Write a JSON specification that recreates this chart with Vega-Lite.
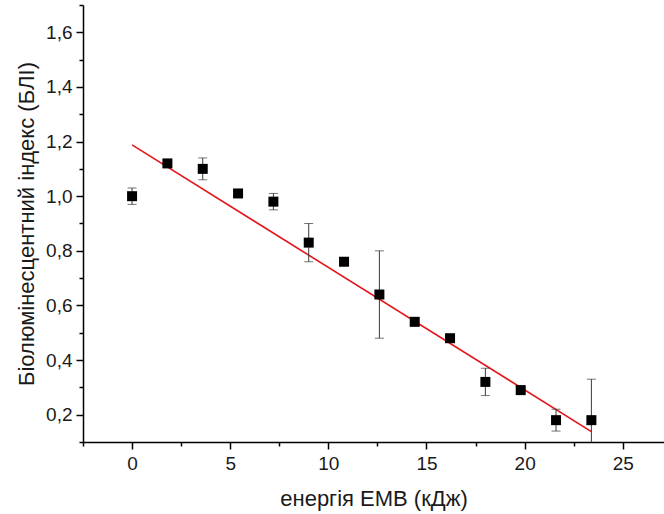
{
  "$schema": "https://vega.github.io/schema/vega-lite/v6.json",
  "width": 581,
  "height": 437,
  "autosize": {"type": "none"},
  "padding": {"left": 83, "top": 5, "right": 0, "bottom": 72},
  "background": "white",
  "config": {
    "view": {"stroke": null},
    "font": "Liberation Sans",
    "axis": {
      "grid": false,
      "domainColor": "#000000",
      "domainWidth": 1.5,
      "tickColor": "#000000",
      "tickWidth": 1.5,
      "labelColor": "#1a1a1a",
      "titleColor": "#1a1a1a",
      "labelFont": "Liberation Sans",
      "titleFont": "Liberation Sans",
      "labelFontSize": 19,
      "titleFontSize": 22,
      "titleFontWeight": "normal",
      "labelOverlap": false,
      "labelFlush": false
    }
  },
  "datasets": {
    "pts": [
      {"x": 0, "y": 1.0, "err": 0.03},
      {"x": 1.8, "y": 1.12, "err": 0.01},
      {"x": 3.6, "y": 1.1, "err": 0.04},
      {"x": 5.4, "y": 1.01, "err": 0.01},
      {"x": 7.2, "y": 0.98, "err": 0.03},
      {"x": 9.0, "y": 0.83, "err": 0.07},
      {"x": 10.8, "y": 0.76, "err": 0.005},
      {"x": 12.6, "y": 0.64, "err": 0.16},
      {"x": 14.4, "y": 0.54, "err": 0.015},
      {"x": 16.2, "y": 0.48, "err": 0.005},
      {"x": 18.0, "y": 0.32, "err": 0.05},
      {"x": 19.8, "y": 0.29, "err": 0.015},
      {"x": 21.6, "y": 0.18, "err": 0.04},
      {"x": 23.4, "y": 0.18, "err": 0.15}
    ],
    "fit": [
      {"x": 0, "y": 1.188},
      {"x": 23.4, "y": 0.138}
    ]
  },
  "encoding": {
    "x": {
      "field": "x",
      "type": "quantitative",
      "scale": {"domain": [-2.5, 27.1], "nice": false, "zero": false},
      "axis": {
        "title": "енергія ЕМВ (кДж)",
        "values": [-2.5, 0, 2.5, 5, 7.5, 10, 12.5, 15, 17.5, 20, 22.5, 25],
        "tickSize": {"condition": {"test": "datum.value % 5 === 0", "value": 7}, "value": 4},
        "labelExpr": "datum.value % 5 === 0 ? format(datum.value, 'd') : ''",
        "labelPadding": 5,
        "titlePadding": 15
      }
    },
    "y": {
      "field": "y",
      "type": "quantitative",
      "scale": {"domain": [0.1, 1.7], "nice": false, "zero": false},
      "axis": {
        "title": "Біолюмінесцентний індекс (БЛІ)",
        "values": [0.1, 0.2, 0.3, 0.4, 0.5, 0.6, 0.7, 0.8, 0.9, 1.0, 1.1, 1.2, 1.3, 1.4, 1.5, 1.6, 1.7],
        "tickSize": {"condition": {"test": "round(datum.value * 10) % 2 === 0", "value": 7}, "value": 4},
        "labelExpr": "round(datum.value * 10) % 2 === 0 ? replace(format(datum.value, '.1f'), '.', ',') : ''",
        "labelPadding": 4,
        "titlePadding": 7
      }
    }
  },
  "layer": [
    {
      "data": {"name": "fit"},
      "mark": {"type": "line", "color": "#e3151a", "strokeWidth": 1.6}
    },
    {
      "data": {"name": "pts"},
      "mark": {"type": "errorbar", "clip": true, "color": "#3a3a3a", "thickness": 1, "ticks": {"size": 9, "thickness": 1, "color": "#3a3a3a"}},
      "encoding": {
        "yError": {"field": "err"}
      }
    },
    {
      "data": {"name": "pts"},
      "mark": {"type": "point", "shape": "square", "filled": true, "color": "#000000", "opacity": 1, "size": 100}
    }
  ]
}
